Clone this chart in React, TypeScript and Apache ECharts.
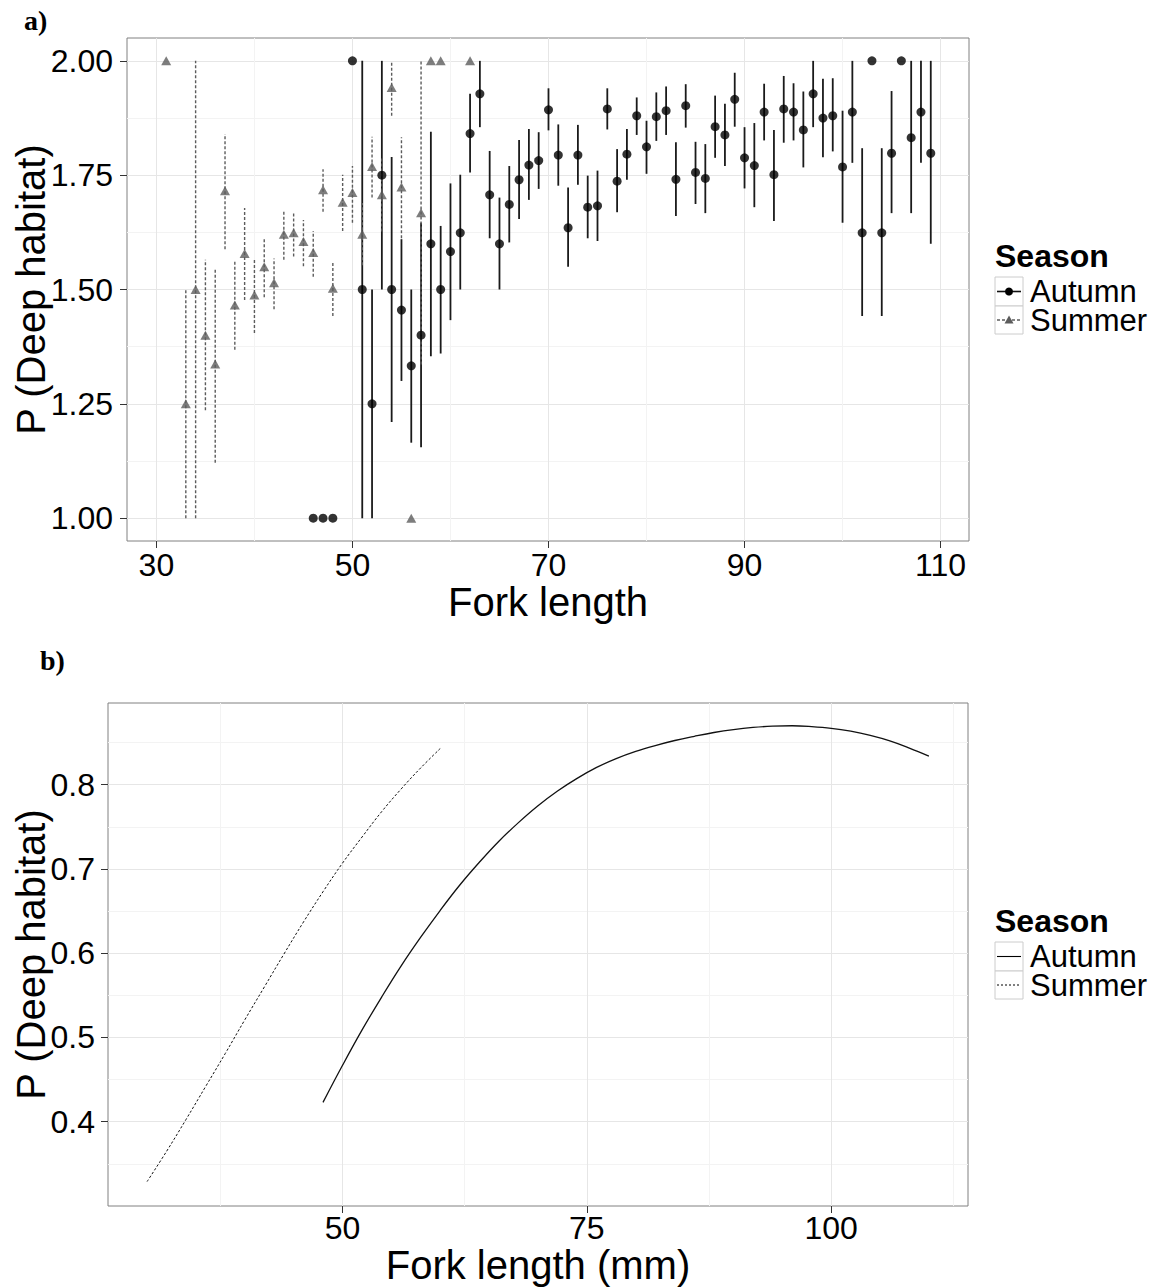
import React, { useEffect, useRef } from "react";
import * as echarts from "echarts";

// ---------- Panel a) data: mean P(deep habitat) with intervals ----------
const autumnX = [46, 47, 48, 50, 51, 52, 53, 54, 55, 56, 57, 58, 59, 60, 61, 62, 63, 64, 65, 66, 67, 68, 69, 70, 71, 72, 73, 74, 75, 76, 77, 78, 79, 80, 81, 82, 83, 84, 85, 86, 87, 88, 89, 90, 91, 92, 93, 94, 95, 96, 97, 98, 99, 100, 101, 102, 103, 104, 105, 106, 107, 108, 109];
const autumnY = [1.0, 1.0, 1.0, 2.0, 1.5, 1.25, 1.75, 1.5, 1.455, 1.333, 1.4, 1.6, 1.5, 1.583, 1.624, 1.841, 1.928, 1.707, 1.6, 1.686, 1.74, 1.772, 1.782, 1.893, 1.794, 1.635, 1.794, 1.68, 1.683, 1.895, 1.737, 1.796, 1.88, 1.812, 1.878, 1.891, 1.741, 1.902, 1.756, 1.743, 1.856, 1.838, 1.916, 1.788, 1.771, 1.888, 1.751, 1.895, 1.888, 1.849, 1.928, 1.875, 1.88, 1.768, 1.888, 1.624, 2.0, 1.624, 1.798, 2.0, 1.832, 1.888, 1.798];
const autumnLow = [null, null, null, null, 1.0, 1.0, 1.5, 1.21, 1.3, 1.165, 1.155, 1.354, 1.36, 1.433, 1.5, 1.756, 1.855, 1.612, 1.5, 1.603, 1.654, 1.696, 1.72, 1.848, 1.727, 1.55, 1.729, 1.612, 1.606, 1.85, 1.669, 1.74, 1.838, 1.753, 1.825, 1.838, 1.661, 1.854, 1.687, 1.667, 1.788, 1.77, 1.856, 1.721, 1.68, 1.826, 1.65, 1.821, 1.826, 1.767, 1.855, 1.789, 1.802, 1.646, 1.777, 1.442, null, 1.442, 1.667, null, 1.667, 1.777, 1.6];
const autumnHigh = [null, null, null, null, 2.0, 1.5, 2.0, 1.79, 1.61, 1.5, 1.646, 1.845, 1.639, 1.732, 1.751, 1.928, 2.0, 1.803, 1.701, 1.77, 1.827, 1.851, 1.844, 1.94, 1.861, 1.723, 1.86, 1.749, 1.76, 1.94, 1.807, 1.851, 1.92, 1.869, 1.931, 1.944, 1.822, 1.949, 1.823, 1.818, 1.924, 1.906, 1.974, 1.855, 1.864, 1.95, 1.849, 1.967, 1.951, 1.933, 2.0, 1.961, 1.962, 1.891, 2.0, 1.809, null, 1.809, 1.934, null, 2.0, 2.0, 2.0];

const summerX = [31, 33, 34, 35, 36, 37, 38, 39, 40, 41, 42, 43, 44, 45, 46, 47, 48, 49, 50, 51, 52, 53, 54, 55, 56, 57, 58, 59, 62];
const summerY = [2.0, 1.25, 1.5, 1.4, 1.337, 1.716, 1.466, 1.579, 1.488, 1.55, 1.515, 1.621, 1.624, 1.605, 1.581, 1.718, 1.503, 1.691, 1.712, 1.621, 1.769, 1.707, 1.942, 1.724, 1.0, 1.668, 2.0, 2.0, 2.0];
const summerLow = [null, 1.0, 1.0, 1.236, 1.121, 1.588, 1.368, 1.477, 1.405, 1.483, 1.457, 1.565, 1.572, 1.551, 1.528, 1.67, 1.442, 1.628, 1.646, 1.553, 1.701, 1.627, 1.88, 1.612, null, 1.336, null, null, null];
const summerHigh = [null, 1.5, 2.0, 1.565, 1.544, 1.84, 1.562, 1.678, 1.568, 1.613, 1.568, 1.67, 1.67, 1.652, 1.628, 1.763, 1.559, 1.751, 1.77, 1.689, 1.834, 1.787, 2.0, 1.833, null, 2.0, null, null, null];

const topXTicks = [30, 50, 70, 90, 110];
const topXMinor = [40, 60, 80, 100];
const topYTicks = [1.0, 1.25, 1.5, 1.75, 2.0];
const topYMinor = [1.125, 1.375, 1.625, 1.875];

// ---------- Panel b) data: fitted curves ----------
const fitAutumnX = [48, 50, 52, 54, 56, 58, 60, 62, 64, 66, 68, 70, 72, 74, 76, 78, 80, 82, 84, 86, 88, 90, 92, 94, 96, 98, 100, 102, 104, 106, 108, 110];
const fitAutumnY = [0.423, 0.467, 0.509, 0.548, 0.585, 0.619, 0.651, 0.681, 0.708, 0.733, 0.755, 0.775, 0.7925, 0.8075, 0.8205, 0.831, 0.8395, 0.8465, 0.8525, 0.8575, 0.862, 0.8655, 0.868, 0.8695, 0.87, 0.869, 0.867, 0.8635, 0.8585, 0.852, 0.8435, 0.834];
const fitSummerX = [30, 32, 34, 36, 38, 40, 42, 44, 46, 48, 50, 52, 54, 56, 58, 60];
const fitSummerY = [0.329, 0.365, 0.403, 0.442, 0.481, 0.521, 0.56, 0.599, 0.637, 0.673, 0.707, 0.738, 0.768, 0.795, 0.82, 0.843];

const bottomXTicks = [50, 75, 100];
const bottomXMinor = [37.5, 62.5, 87.5, 112.5];
const bottomYTicks = [0.4, 0.5, 0.6, 0.7, 0.8];
const bottomYMinor = [0.35, 0.45, 0.55, 0.65, 0.75, 0.85];

const seasons = ["Autumn", "Summer"];

const FONT = "'Liberation Sans', Arial, Helvetica, sans-serif";
const SERIF = "'Liberation Serif', 'Times New Roman', serif";
const SUMMER_GREY = "#5c5c5c";

function majorAxis(
  gridIndex: number,
  min: number,
  max: number,
  ticks: number[],
  name: string,
  nameGap: number,
  labelMargin: number,
  fmt?: (v: number) => string
) {
  return {
    gridIndex,
    type: "value",
    min,
    max,
    name,
    nameLocation: "middle",
    nameGap,
    nameMoveOverlap: false,
    nameTextStyle: { fontSize: 40, color: "#000", fontFamily: FONT },
    axisLine: { show: false, onZero: false },
    axisTick: { show: true, length: 7, customValues: ticks, lineStyle: { color: "#333", width: 1 } },
    axisLabel: {
      customValues: ticks,
      fontSize: 32,
      color: "#000",
      fontFamily: FONT,
      margin: labelMargin,
      formatter: fmt ? (v: number) => fmt(v) : undefined,
    },
    splitLine: { show: true, lineStyle: { color: "#e6e6e6", width: 1 } },
  };
}

function minorAxis(gridIndex: number, min: number, max: number, ticks: number[]) {
  return {
    gridIndex,
    type: "value",
    min,
    max,
    axisLine: { show: false, onZero: false },
    axisTick: { show: false, customValues: ticks },
    axisLabel: { show: false, customValues: ticks },
    splitLine: { show: true, lineStyle: { color: "#f3f3f3", width: 1 } },
  };
}

function errorBarSeries(
  name: string,
  xs: number[],
  lows: (number | null)[],
  highs: (number | null)[],
  color: string,
  width: number,
  dash: number[] | null,
  xAxisIndex: number,
  yAxisIndex: number
) {
  const data: number[][] = [];
  xs.forEach((x, i) => {
    const lo = lows[i];
    const hi = highs[i];
    if (lo !== null && hi !== null) data.push([x, lo, hi]);
  });
  return {
    name,
    type: "custom",
    xAxisIndex,
    yAxisIndex,
    data,
    encode: { x: 0, y: [1, 2] },
    renderItem: (_params: any, api: any) => {
      const x = api.value(0);
      const p1 = api.coord([x, api.value(1)]);
      const p2 = api.coord([x, api.value(2)]);
      return {
        type: "line",
        shape: { x1: p1[0], y1: p1[1], x2: p2[0], y2: p2[1] },
        style: { stroke: color, lineWidth: width, lineDash: dash || undefined, fill: null },
      };
    },
  };
}

function legendGraphics(dy: number, mode: "points" | "lines") {
  const els: any[] = [];
  els.push({
    type: "text",
    x: 995,
    y: 256 + dy,
    style: {
      text: "Season",
      fontSize: 32,
      lineHeight: 30,
      fontWeight: "bold",
      fontFamily: FONT,
      fill: "#000",
      verticalAlign: "middle",
      align: "left",
    },
  });
  const rows = [
    { name: seasons[0], top: 277, h: 29, cy: 291.5 },
    { name: seasons[1], top: 306, h: 28, cy: 320 },
  ];
  rows.forEach((r, i) => {
    els.push({
      type: "rect",
      shape: { x: 995, y: r.top + dy, width: 28, height: r.h },
      style: { fill: "#fff", stroke: "#cccccc", lineWidth: 1 },
    });
    const isAutumn = i === 0;
    if (mode === "points") {
      els.push({
        type: "line",
        shape: { x1: 997, y1: r.cy + dy, x2: 1021, y2: r.cy + dy },
        style: {
          stroke: isAutumn ? "#111" : SUMMER_GREY,
          lineWidth: isAutumn ? 1.6 : 1.3,
          lineDash: isAutumn ? undefined : [3, 2],
        },
      });
      if (isAutumn) {
        els.push({ type: "circle", shape: { cx: 1009, cy: r.cy + dy, r: 4 }, style: { fill: "#000" } });
      } else {
        els.push({
          type: "polygon",
          shape: { points: [[1009, r.cy + dy - 4.5], [1013.5, r.cy + dy + 3.5], [1004.5, r.cy + dy + 3.5]] },
          style: { fill: SUMMER_GREY },
        });
      }
    } else {
      els.push({
        type: "line",
        shape: { x1: 997, y1: r.cy + dy, x2: 1021, y2: r.cy + dy },
        style: { stroke: "#000", lineWidth: isAutumn ? 1.1 : 1, lineDash: isAutumn ? undefined : [2, 2] },
      });
    }
    els.push({
      type: "text",
      x: 1030,
      y: r.cy + dy,
      style: {
        text: r.name,
        fontSize: 31,
        lineHeight: 27,
        fontFamily: FONT,
        fill: "#000",
        verticalAlign: "middle",
        align: "left",
      },
    });
  });
  return els;
}

function buildOption() {
  const autumnPts = autumnX.map((x, i) => [x, autumnY[i]]);
  const summerPts = summerX.map((x, i) => [x, summerY[i]]);
  const autumnFit = fitAutumnX.map((x, i) => [x, fitAutumnY[i]]);
  const summerFit = fitSummerX.map((x, i) => [x, fitSummerY[i]]);

  const gridStyle = {
    show: true,
    borderColor: "#808080",
    borderWidth: 1,
    backgroundColor: "#fff",
    containLabel: false,
    outerBoundsMode: "none",
  };

  return {
    animation: false,
    backgroundColor: "#fff",
    grid: [
      { left: 127, top: 38, width: 842, height: 503, ...gridStyle },
      { left: 108, top: 703, width: 860, height: 503, ...gridStyle },
    ],
    xAxis: [
      majorAxis(0, 27, 112.9, topXTicks, "Fork length", 41, 8),
      minorAxis(0, 27, 112.9, topXMinor),
      majorAxis(1, 26, 114, bottomXTicks, "Fork length (mm)", 39, 6),
      minorAxis(1, 26, 114, bottomXMinor),
    ],
    yAxis: [
      majorAxis(0, 0.95, 2.05, topYTicks, "P (Deep habitat)", 76, 14, (v) => v.toFixed(2)),
      minorAxis(0, 0.95, 2.05, topYMinor),
      majorAxis(1, 0.3, 0.897, bottomYTicks, "P (Deep habitat)", 57, 13, (v) => v.toFixed(1)),
      minorAxis(1, 0.3, 0.897, bottomYMinor),
    ],
    series: [
      errorBarSeries("Autumn", autumnX, autumnLow, autumnHigh, "#1a1a1a", 1.8, null, 0, 0),
      {
        name: "Autumn",
        type: "scatter",
        xAxisIndex: 0,
        yAxisIndex: 0,
        data: autumnPts,
        symbol: "circle",
        symbolSize: 9,
        itemStyle: { color: "#000" },
      },
      errorBarSeries("Summer", summerX, summerLow, summerHigh, SUMMER_GREY, 1.4, [3, 2], 0, 0),
      {
        name: "Summer",
        type: "scatter",
        xAxisIndex: 0,
        yAxisIndex: 0,
        data: summerPts,
        symbol: "triangle",
        symbolSize: [10, 9],
        itemStyle: { color: SUMMER_GREY },
      },
      {
        name: "Autumn",
        type: "line",
        xAxisIndex: 2,
        yAxisIndex: 2,
        data: autumnFit,
        showSymbol: false,
        smooth: 0.4,
        lineStyle: { color: "#111", width: 1.3 },
      },
      {
        name: "Summer",
        type: "line",
        xAxisIndex: 2,
        yAxisIndex: 2,
        data: summerFit,
        showSymbol: false,
        smooth: 0.4,
        lineStyle: { color: "#111", width: 1, type: [2.5, 2] },
      },
    ],
    graphic: [
      {
        type: "text",
        x: 24,
        y: 20,
        style: { text: "a)", fontSize: 28, fontWeight: "bold", fontFamily: SERIF, fill: "#000", verticalAlign: "middle" },
      },
      {
        type: "text",
        x: 40,
        y: 660,
        style: { text: "b)", fontSize: 28, fontWeight: "bold", fontFamily: SERIF, fill: "#000", verticalAlign: "middle" },
      },
      ...legendGraphics(0, "points"),
      ...legendGraphics(665, "lines"),
    ],
  };
}

export default function App() {
  const ref = useRef<HTMLDivElement>(null);
  useEffect(() => {
    if (!ref.current) return;
    const chart = echarts.init(ref.current, null, { renderer: "svg" });
    chart.setOption(buildOption() as any);
    return () => chart.dispose();
  }, []);
  return (
    <div
      ref={ref}
      style={{ position: "absolute", left: 0, top: 0, width: 1162, height: 1287, background: "#fff" }}
    />
  );
}
